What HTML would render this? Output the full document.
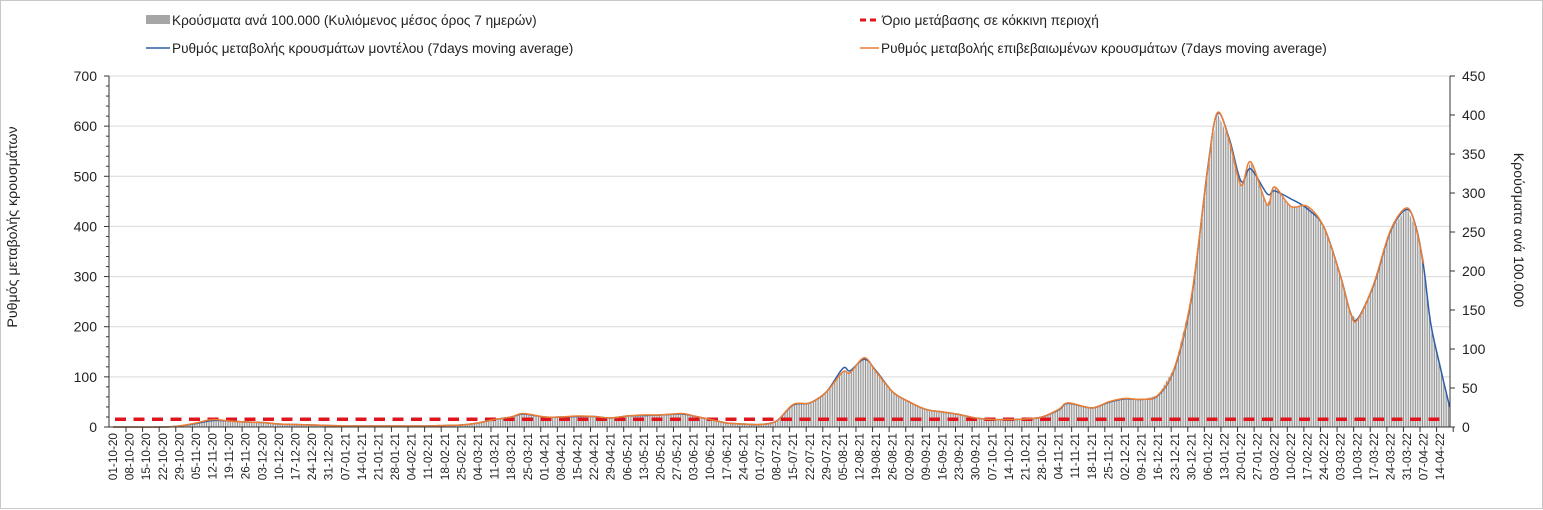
<!DOCTYPE html>
<html><head><meta charset="utf-8">
<style>
body{margin:0;background:#fff;}
svg{display:block;font-family:"Liberation Sans","DejaVu Sans",sans-serif;}
</style></head>
<body>
<svg id="chart" width="1543" height="510" viewBox="0 0 1543 510">
<defs>
<pattern id="stripes" patternUnits="userSpaceOnUse" width="2.37" height="10">
<rect width="2.37" height="10" fill="#e6e6e6"/>
<rect x="0" width="0.9" height="10" fill="#8a8a8a"/>
</pattern>
</defs>
<rect x="0.5" y="0.5" width="1542" height="508" fill="#fff" stroke="#c8c8c8"/>
<g id="legend">
<g>
<rect x="146" y="15" width="24" height="9" fill="#a6a6a6"/>
<text x="172" y="25" font-size="13.6" fill="#222">Κρούσματα ανά 100.000 (Κυλιόμενος μέσος όρος 7 ημερών)</text>
</g>
<g>
<line x1="860" y1="20" x2="880" y2="20" stroke="#e0141c" stroke-width="3" stroke-dasharray="6,4"/>
<text x="882" y="25" font-size="13.6" fill="#222">Όριο μετάβασης σε κόκκινη περιοχή</text>
</g>
<g>
<line x1="146" y1="48" x2="170" y2="48" stroke="#2e5fa8" stroke-width="1.5"/>
<text x="172" y="53" font-size="13.6" fill="#222">Ρυθμός μεταβολής κρουσμάτων μοντέλου (7days moving average)</text>
</g>
<g>
<line x1="860" y1="48" x2="879" y2="48" stroke="#ed7d31" stroke-width="1.5"/>
<text x="881" y="53" font-size="13.6" fill="#222">Ρυθμός μεταβολής επιβεβαιωμένων κρουσμάτων (7days moving average)</text>
</g>
</g>
<text transform="translate(17,227) rotate(-90)" text-anchor="middle" font-size="14.2" fill="#222">Ρυθμός μεταβολής κρουσμάτων</text>
<text transform="translate(1514,230) rotate(90)" text-anchor="middle" font-size="14.2" fill="#222">Κρούσματα ανά 100.000</text>
<g id="grid"></g>
<g id="bars"></g>
<g id="lines"></g>
<g id="axes"></g>
</svg>
<script>
const leftTicks=[0,100,200,300,400,500,600,700];
const rightTicks=[0,50,100,150,200,250,300,350,400,450];
const threshold=[15.5];
const sampleDays=[0,21,28,35,42,49,56,63,70,77,84,91,98,105,112,119,126,133,140,147,154,161,168,173,182,189,196,203,210,217,224,231,240,245,252,259,266,273,280,287,294,301,308,311,317,322,329,336,343,350,357,364,371,378,385,392,399,403,413,420,427,434,441,448,455,462,466,471,476,480,487,490,497,504,511,518,522,525,532,539,546,550,553,556,560,564];
const confirmedRate=[0,0,2,8,15,12,10,9,6,5,4,3,2,2,2,2,2,2,3,4,8,15,20,27,20,20,22,21,18,22,24,24,27,22,15,8,6,5,12,45,48,70,110,108,138,110,70,50,35,30,25,18,15,15,16,20,35,48,38,50,57,55,64,120,259,517,627,571,482,529,443,479,440,440,398,299,229,213,286,392,437,392,326,null,null,null,null];
const modelRate=[0,0,2,7,13,12,10,9,6,5,4,3,2,2,2,2,2,2,3,4,8,15,20,26,20,20,21,21,18,22,23,24,26,22,15,8,6,5,12,44,48,70,117,112,135,112,70,50,35,30,25,18,15,15,16,20,34,47,38,49,56,55,63,118,255,520,625,575,490,515,465,471,455,435,398,300,230,215,284,390,434,395,320,207,120,40,22];
const casesPer100k=[0,0,1,5,10,8,6,6,4,3,3,2,1,1,1,1,1,1,2,3,5,10,13,17,13,13,14,13,12,14,15,15,17,14,10,5,4,3,8,29,31,45,72,70,88,71,45,32,22,19,16,12,10,10,10,13,22,31,25,32,37,35,41,77,166,333,403,367,310,340,285,308,283,283,256,192,147,137,184,252,281,252,210,133,80,26,15];
const weekLabels=[];
(function(){const d0=new Date(Date.UTC(2020,9,1));for(let k=0;k<=80;k++){const d=new Date(d0.getTime()+k*7*86400000);const p=n=>String(n).padStart(2,'0');weekLabels.push(p(d.getUTCDate())+'-'+p(d.getUTCMonth()+1)+'-'+p(d.getUTCFullYear()%100));}})();

const NS='http://www.w3.org/2000/svg';
const PL=109,PR=1450,PT=76,PB=427;
const xDay=d=>113+d*2.37;
const yL=v=>PB-v*(PB-PT)/700;
const yR=v=>PB-v*(PB-PT)/450;
function mk(tag,attrs,parent){const e=document.createElementNS(NS,tag);for(const k in attrs)e.setAttribute(k,attrs[k]);parent.appendChild(e);return e;}
const grid=document.getElementById('grid'),axes=document.getElementById('axes'),bars=document.getElementById('bars'),lines=document.getElementById('lines');

leftTicks.forEach(v=>{
 if(v>0){const g=mk('line',{x1:PL,x2:PR,y1:yL(v),y2:yL(v),stroke:'#d9d9d9','stroke-width':1},grid);
 
 }
 const t=mk('text',{x:PL-12,y:yL(v)+5,'text-anchor':'end','font-size':14,fill:'#222'},axes);t.textContent=v;
 
 
 mk('line',{x1:PL-5,x2:PL,y1:yL(v),y2:yL(v),stroke:'#333'},axes);
});
for(let v=20;v<700;v+=20){if(v%100)mk('line',{x1:PL-3,x2:PL,y1:yL(v),y2:yL(v),stroke:'#333'},axes);}
rightTicks.forEach(v=>{
 const t=mk('text',{x:PR+12,y:yR(v)+5,'font-size':14,fill:'#222'},axes);t.textContent=v;
 
 
 mk('line',{x1:PR,x2:PR+5,y1:yR(v),y2:yR(v),stroke:'#333'},axes);
});
mk('line',{x1:PL,x2:PL,y1:PT,y2:PB,stroke:'#333'},axes);
mk('line',{x1:PR,x2:PR,y1:PT,y2:PB,stroke:'#333'},axes);
mk('line',{x1:PL,x2:PR,y1:PB,y2:PB,stroke:'#333'},axes);
weekLabels.forEach((lab,k)=>{
 const x=xDay(k*7);
 mk('line',{x1:x+13,x2:x+13,y1:PB,y2:PB+5,stroke:'#333'},axes);
 const t=mk('text',{transform:`translate(${x+4},${PB+6}) rotate(-90)`,'text-anchor':'end','font-size':11.8,fill:'#222'},axes);
 t.textContent=lab;
 
 
});

let pts=[];sampleDays.forEach((d,i)=>{if(casesPer100k[i]!=null)pts.push([xDay(d),yR(casesPer100k[i])]);});
let dArea=`M${pts[0][0]},${PB} `+pts.map(p=>`L${p[0]},${p[1]}`).join(' ')+` L${pts[pts.length-1][0]},${PB} Z`;
const area=mk('path',{d:dArea,fill:'url(#stripes)'},bars);



function smooth(arr){const p=[];sampleDays.forEach((d,i)=>{if(arr[i]!=null)p.push([xDay(d),yL(arr[i])]);});
 let s=`M${p[0][0]},${p[0][1]}`;
 for(let i=0;i<p.length-1;i++){const p0=p[i-1]||p[i],p1=p[i],p2=p[i+1],p3=p[i+2]||p2;
 const c1=[p1[0]+(p2[0]-p0[0])/6,p1[1]+(p2[1]-p0[1])/6],c2=[p2[0]-(p3[0]-p1[0])/6,p2[1]-(p3[1]-p1[1])/6];
 s+=` C${c1[0]},${c1[1]} ${c2[0]},${c2[1]} ${p2[0]},${p2[1]}`;}return s;}
const th=mk('line',{x1:xDay(0)+2,x2:PR-4,y1:yL(threshold[0]),y2:yL(threshold[0]),stroke:'#e0141c','stroke-width':3.5,'stroke-dasharray':'11,7.5'},lines);


const bl=mk('path',{d:smooth(modelRate),fill:'none',stroke:'#2e5fa8','stroke-width':1.5},lines);


const ol=mk('path',{d:smooth(confirmedRate),fill:'none',stroke:'#ed7d31','stroke-width':1.5},lines);


</script>
</body></html>
